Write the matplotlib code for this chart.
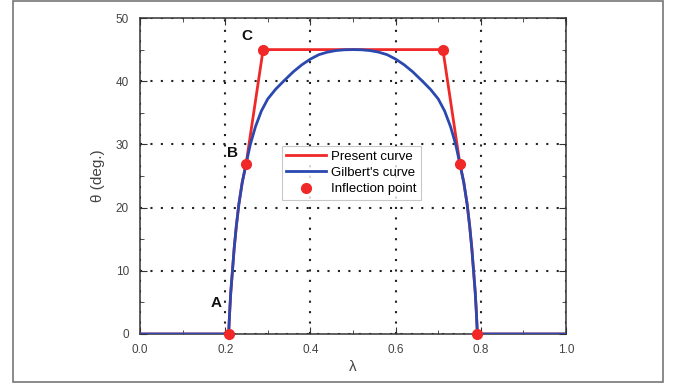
import matplotlib.pyplot as plt
from matplotlib.patches import Rectangle
from matplotlib.ticker import MultipleLocator

plt.rcParams['font.family'] = ['Liberation Sans', 'DejaVu Sans']

# Gilbert's curve
gilbert_lam = [0.0, 0.208, 0.2105, 0.213, 0.217, 0.221, 0.226, 0.232, 0.240, 0.249,
               0.259, 0.271, 0.285, 0.300, 0.318, 0.337, 0.360, 0.380, 0.400,
               0.420, 0.440, 0.460, 0.480, 0.500,
               0.520, 0.540, 0.560, 0.580, 0.600, 0.620, 0.640, 0.663, 0.682,
               0.700, 0.715, 0.729, 0.741, 0.751, 0.760, 0.768, 0.774, 0.779,
               0.783, 0.787, 0.7895, 0.792, 1.0]
gilbert_theta = [0, 0, 3.5, 6.5, 10, 13.5, 17, 20.5, 24, 26.9,
                 30, 32.8, 35.3, 37.2, 38.7, 40.0, 41.5, 42.6, 43.5,
                 44.2, 44.6, 44.85, 44.97, 45.0,
                 44.97, 44.85, 44.6, 44.2, 43.5, 42.6, 41.5, 40.0, 38.7,
                 37.2, 35.3, 32.8, 30, 26.9, 24, 20.5, 17, 13.5,
                 10, 6.5, 3.5, 0, 0]

# present curve
present_lam = [0.0, 0.208, 0.2105, 0.213, 0.217, 0.221, 0.226, 0.232, 0.240, 0.249,
               0.289, 0.711, 0.751, 0.760, 0.768, 0.774, 0.779, 0.783, 0.787,
               0.7895, 0.792, 1.0]
present_theta = [0, 0, 3.5, 6.5, 10, 13.5, 17, 20.5, 24, 26.9,
                 45.0, 45.0, 26.9, 24, 20.5, 17, 13.5, 10, 6.5,
                 3.5, 0, 0]

inflect_lam = [0.208, 0.249, 0.289, 0.711, 0.751, 0.792]
inflect_theta = [0, 26.9, 45, 45, 26.9, 0]

point_labels = ['A', 'B', 'C']
label_lam = [0.179, 0.216, 0.250]
label_theta = [4.9, 28.6, 47.1]

RED = '#f02828'
BLUE = '#2a48b0'
GREY = '#444444'

fig = plt.figure(figsize=(6.78, 3.87), dpi=100)
fig.patches.append(Rectangle((13 / 678, 5 / 387), 650 / 678, 381 / 387,
                             transform=fig.transFigure, fill=False,
                             edgecolor='#777777', linewidth=1.2))
ax = fig.add_axes([140 / 678, 1 - 334 / 387, 426 / 678, 316 / 387])

ax.plot(present_lam, present_theta, color=RED, lw=2, label='Present curve', zorder=3)
ax.plot(gilbert_lam, gilbert_theta, color=BLUE, lw=2, label="Gilbert's curve", zorder=4)
ax.plot(inflect_lam, inflect_theta, 'o', color=RED, ms=7, mec=RED,
        label='Inflection point', zorder=5, clip_on=False)

for txt, lx, ly in zip(point_labels, label_lam, label_theta):
    ax.text(lx, ly, txt, fontsize=11, fontweight='bold', ha='center', va='center',
            color='#111111')

ax.set_xlim(0, 1)
ax.set_ylim(0, 50)
ax.xaxis.set_major_locator(MultipleLocator(0.2))
ax.xaxis.set_minor_locator(MultipleLocator(0.1))
ax.yaxis.set_major_locator(MultipleLocator(10))
ax.yaxis.set_minor_locator(MultipleLocator(5))
ax.xaxis.set_major_formatter(lambda v, p: f'{v:.1f}')
ax.tick_params(which='both', direction='in', top=True, right=True,
               labelsize=8.5, labelcolor=GREY, color='#333333')
ax.tick_params(which='major', length=5)
ax.tick_params(axis='x', which='major', pad=7)
ax.tick_params(axis='y', which='major', pad=8)
ax.tick_params(which='minor', length=3)
ax.grid(True, which='major', color='#222222', linestyle=(0, (1, 4)), linewidth=1.5)
ax.set_axisbelow(True)
for sp in ax.spines.values():
    sp.set_color('#333333')
    sp.set_linewidth(1.1)

ax.set_xlabel('λ', fontsize=11, color=GREY, labelpad=3)
ax.set_ylabel('θ (deg.)', fontsize=11, color=GREY, labelpad=8)

leg = ax.legend(loc='upper left', bbox_to_anchor=(0.333, 0.595), fontsize=9.5,
                frameon=True, fancybox=False, borderpad=0.35, labelspacing=0.3,
                handlelength=3.0, handletextpad=0.4, borderaxespad=0)
leg.get_frame().set_edgecolor('#bbbbbb')
leg.get_frame().set_linewidth(0.8)

fig.savefig('out.png', dpi=100)
